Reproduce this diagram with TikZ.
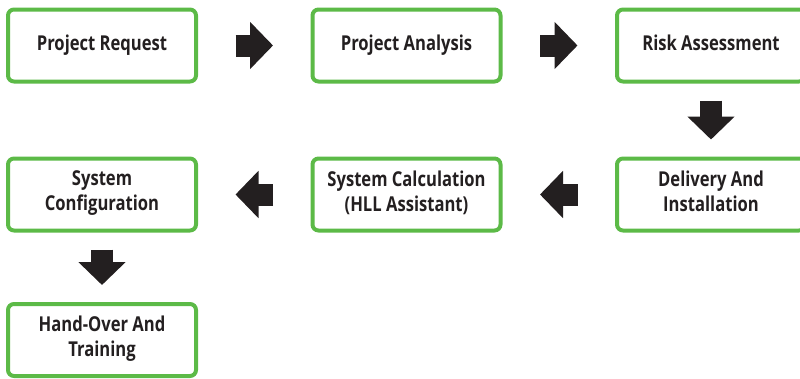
\documentclass[tikz,border=0pt]{standalone}
\usepackage{fontspec}
\setmainfont{Open Sans}[FakeStretch=0.81]
\usepackage{tikz}
\usetikzlibrary{arrows.meta}

\definecolor{boxgreen}{RGB}{92,186,71}
\definecolor{ink}{RGB}{35,31,32}

\tikzset{
    stepbox/.style={draw=boxgreen, line width=4pt, rounded corners=6pt, fill=white,
        minimum width=188pt, minimum height=72pt, inner sep=2pt, align=center,
        text=ink, font=\fontsize{20.5}{25}\selectfont\bfseries,
        execute at begin node=\strut, execute at end node=\strut},
    flow/.style={draw=ink, line width=22pt, -{Triangle[length=23pt,width=46pt]}},
    hflow/.style={flow, shorten <=37.5pt, shorten >=37.5pt},
    vflow/.style={flow, shorten <=17pt, shorten >=17pt}
}

\begin{document}
\begin{tikzpicture}[x=1pt, y=1pt]
            \useasboundingbox (0, 0) rectangle (800, -378);

            \node[stepbox] (request) at (102, -45.5) {Project Request};
            \node[stepbox] (analysis) at (406.5, -45.5) {Project Analysis};
            \node[stepbox] (risk) at (711, -45.5) {Risk Assessment};

            \node[stepbox] (delivery) at (711, -194.5) {Delivery And\\Installation};
            \node[stepbox] (calc) at (406.5, -194.5) {System Calculation\\(HLL Assistant)};
            \node[stepbox] (config) at (102, -194.5) {System\\Configuration};

            \node[stepbox] (handover) at (102, -340) {Hand-Over And\\Training};

            \draw[hflow] (request) -- (analysis);
            \draw[hflow] (analysis) -- (risk);
            \draw[vflow] (risk) -- (delivery);
            \draw[hflow] (delivery) -- (calc);
            \draw[hflow] (calc) -- (config);
            \draw[vflow] (config) -- (handover);

        \end{tikzpicture}
\end{document}
